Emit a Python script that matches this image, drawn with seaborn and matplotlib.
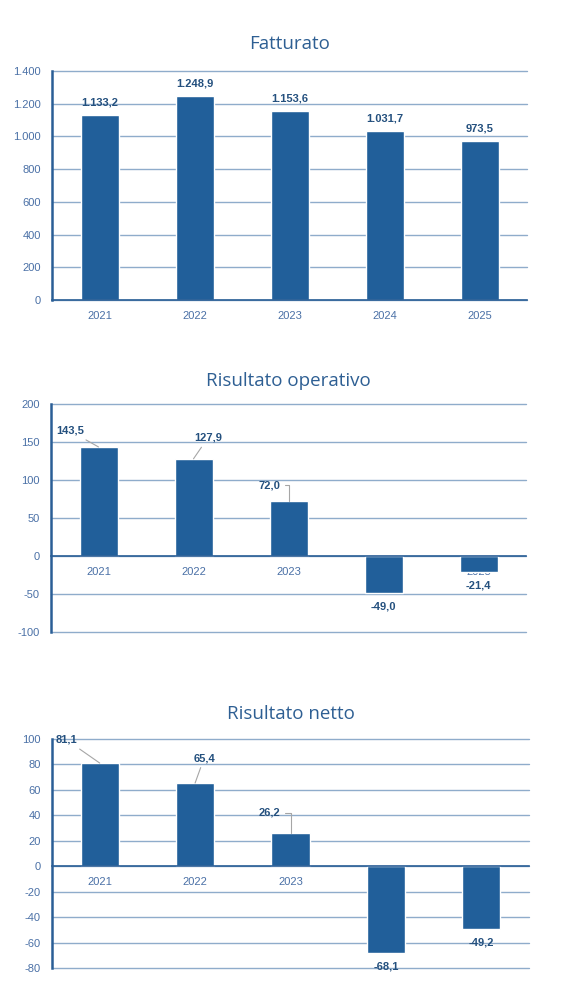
import numpy as np
import pandas as pd
import matplotlib
matplotlib.use("Agg")
import matplotlib.pyplot as plt
import seaborn as sns

# Data (milioni di euro)
years = ["2021", "2022", "2023", "2024", "2025"]
fatturato = [1133.2, 1248.9, 1153.6, 1031.7, 973.5]
ris_operativo = [143.5, 127.9, 72.0, -49.0, -21.4]
ris_netto = [81.1, 65.4, 26.2, -68.1, -49.2]

fatt_labels = ["1.133,2", "1.248,9", "1.153,6", "1.031,7", "973,5"]
oper_labels = ["143,5", "127,9", "72,0", "-49,0", "-21,4"]
netto_labels = ["81,1", "65,4", "26,2", "-68,1", "-49,2"]

sns.set_style("white")
plt.rcParams["font.family"] = ["Liberation Sans", "DejaVu Sans"]

BAR = "#215F9A"
GRID = "#8FACCB"
SPINE = "#2A5E96"
TICK = "#4A70A6"
LABEL = "#24507E"
TITLE = "#2E5F93"
LEADER = "#A6A6A6"

W, H = 579, 1006
fig = plt.figure(figsize=(W / 100, H / 100), dpi=100)


def rect(left, right, top, bottom):
    return [left / W, 1 - bottom / H, (right - left) / W, (bottom - top) / H]


def draw(ax, values, labels, ylim, ystep, fmt, title, title_y, offsets, angled):
    df = pd.DataFrame({"anno": years, "valore": values})
    sns.barplot(data=df, x="anno", y="valore", color=BAR, width=0.4,
                saturation=1, ax=ax, zorder=1)
    ax.set_axisbelow(True)
    ax.set_xlim(-0.5, len(years) - 0.5)
    ax.set_ylim(*ylim)
    ax.set_yticks(np.arange(ylim[0], ylim[1] + ystep / 2, ystep))
    ax.set_yticklabels([fmt(v) for v in ax.get_yticks()])
    ax.yaxis.grid(True, color=GRID, lw=1.0)
    ax.xaxis.grid(False)
    for gl in ax.yaxis.get_gridlines():
        gl.set_clip_on(False)
    ax.set_xlabel("")
    ax.set_ylabel("")

    for s in ["top", "right"]:
        ax.spines[s].set_visible(False)
    ax.spines["left"].set_color(SPINE)
    ax.spines["left"].set_linewidth(1.8)
    ax.spines["bottom"].set_color(SPINE)
    ax.spines["bottom"].set_linewidth(1.2)
    ax.spines["bottom"].set_position(("data", 0))

    ax.set_xticks(np.arange(-0.5, len(years)), minor=True)
    ax.tick_params(axis="x", which="minor", length=5, width=1.2,
                   color=SPINE, direction="out")
    ax.tick_params(axis="x", which="major", length=0, pad=8,
                   labelsize=8, labelcolor=TICK)
    ax.tick_params(axis="y", length=0, pad=8, labelsize=8, labelcolor=TICK)

    for i, (v, lab) in enumerate(zip(values, labels)):
        dx, dy = offsets[i]
        kw = {}
        if dx != 0:
            style = "angle,angleA=0,angleB=90,rad=0" if angled[i] else "arc3"
            kw["arrowprops"] = dict(arrowstyle="-", color=LEADER, lw=0.8,
                                    shrinkA=1, shrinkB=0,
                                    connectionstyle=style)
        ax.annotate(lab, xy=(i, v), xytext=(dx, dy), textcoords="offset points",
                    ha="center", va="center", fontsize=8, fontweight="bold",
                    color=LABEL, annotation_clip=False, zorder=5, **kw)

    pos = ax.get_position()
    fig.text(pos.x0 + pos.width / 2, 1 - title_y / H, title, ha="center",
             va="center", fontsize=13.5, color=TITLE,
             family=["Open Sans", "DejaVu Sans"])


def thousands(v):
    return f"{int(v):,}".replace(",", ".")


def plain(v):
    return f"{int(v)}"


ax1 = fig.add_axes(rect(52, 527, 71, 300))
draw(ax1, fatturato, fatt_labels, (0, 1400), 200, thousands, "Fatturato", 44,
     [(0, 9)] * 5, [False] * 5)

ax2 = fig.add_axes(rect(51, 526, 404, 632))
draw(ax2, ris_operativo, oper_labels, (-100, 200), 50, plain,
     "Risultato operativo", 381,
     [(-20.5, 11.5), (10.4, 15.1), (-14, 11.5), (0, -9.4), (0, -9.4)],
     [False, False, True, False, False])

ax3 = fig.add_axes(rect(52, 529, 739, 968))
draw(ax3, ris_netto, netto_labels, (-80, 100), 20, plain,
     "Risultato netto", 714,
     [(-23.8, 16.6), (6.5, 18), (-14.8, 14.4), (0, -9.7), (0, -9.7)],
     [False, False, True, False, False])

fig.savefig("out.png", dpi=100)
